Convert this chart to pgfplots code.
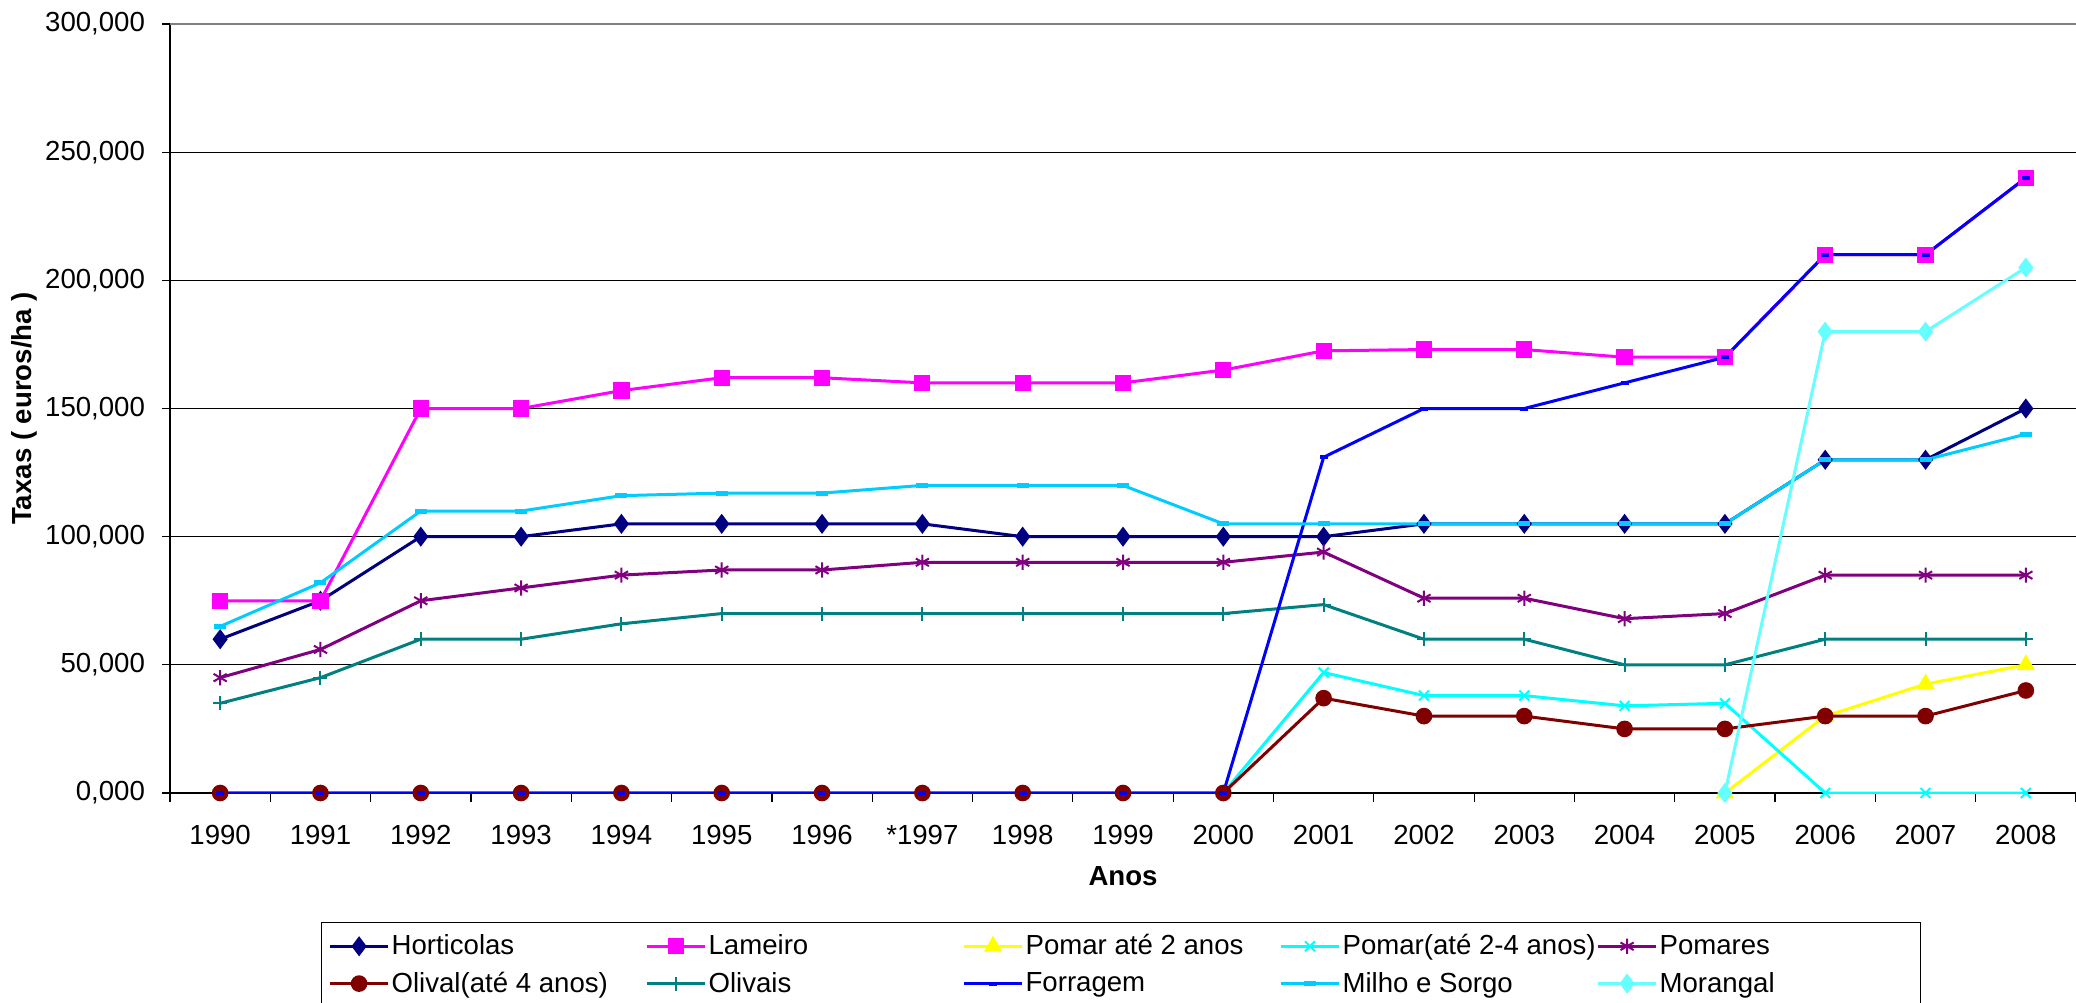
\documentclass[border=0pt]{standalone}
\usepackage{fontspec}
\setmainfont{Liberation Sans}
\usepackage{pgfplots}
\pgfplotsset{compat=1.18}

\definecolor{cHort}{RGB}{0,0,128}
\definecolor{cLam}{RGB}{255,0,255}
\definecolor{cPomA}{RGB}{255,255,0}
\definecolor{cPomB}{RGB}{0,255,255}
\definecolor{cPoms}{RGB}{128,0,128}
\definecolor{cOlA}{RGB}{128,0,0}
\definecolor{cOlv}{RGB}{0,128,128}
\definecolor{cForr}{RGB}{0,0,255}
\definecolor{cMilho}{RGB}{0,204,255}
\definecolor{cMor}{RGB}{102,255,255}

\newcommand{\lbox}[1]{\makebox[126pt][l]{#1}}

\begin{document}
\begin{tikzpicture}
\begin{axis}[
  scale only axis,
  width=953pt, height=384.5pt,
  xmin=-0.5, xmax=18.5, ymin=0, ymax=300,
  xtick={0,...,18},
  xticklabels={1990,1991,1992,1993,1994,1995,1996,*1997,1998,1999,2000,2001,2002,2003,2004,2005,2006,2007,2008},
  minor xtick={-0.5,0.5,...,18.5},
  major x tick style={draw=none},
  ytick={0,50,...,300},
  ymajorgrids,
  grid style={black, line width=0.6pt},
  axis x line*=bottom, axis y line*=left,
  axis line style={black, line width=0.8pt},
  tick align=outside,
  major tick length=4pt, minor tick length=4.5pt,
  tick style={black, line width=0.6pt},
  ticklabel style={font=\fontsize{13.8}{16}\selectfont},
  yticklabel style={xshift=-5pt, /pgf/number format/.cd, fixed, fixed zerofill, precision=3, use comma, 1000 sep={}, assume math mode=true},
  xticklabel style={yshift=-8.6pt},
  xlabel={\textbf{Anos}},
  ylabel={\textbf{Taxas ( euros/ha )}},
  label style={font=\fontsize{13.8}{16}\selectfont},
  xlabel style={at={(axis description cs:0.5,-0.108)}, anchor=center},
  ylabel style={at={(axis description cs:-0.0766,0.5)}, anchor=center},
  legend columns=5,
  legend cell align=left,
  legend image code/.code={\draw[mark repeat=2,mark phase=2] plot coordinates {(0pt,0pt) (14.5pt,0pt) (29pt,0pt)};},
  legend style={at={(axis description cs:0,0)}, anchor=north west,
    xshift=75.5pt, yshift=-64.5pt, draw=black, line width=0.6pt,
    inner xsep=3.5pt, inner ysep=5pt,
    font=\fontsize{13.8}{16}\selectfont, row sep=5pt,
    nodes={inner sep=1pt}},
  every axis plot/.append style={line width=1.5pt},
]
% Horticolas
\addplot[cHort, mark=diamond*, mark size=3.8pt] coordinates {
 (0,60) (1,75) (2,100) (3,100) (4,105) (5,105) (6,105) (7,105) (8,100) (9,100)
 (10,100) (11,100) (12,105) (13,105) (14,105) (15,105) (16,130) (17,130) (18,150)};
% Lameiro
\addplot[cLam, mark=square*, mark size=3.3pt] coordinates {
 (0,75) (1,75) (2,150) (3,150) (4,157) (5,162) (6,162) (7,160) (8,160) (9,160)
 (10,165) (11,172.5) (12,173) (13,173) (14,170) (15,170) (16,210) (17,210) (18,240)};
% Pomar ate 2 anos
\addplot[cPomA, mark=triangle*, mark size=3.8pt] coordinates {
 (15,0) (16,30) (17,42.5) (18,50)};
% Pomar (ate 2-4 anos)
\addplot[cPomB, mark=x, mark size=3.5pt, mark options={line width=1pt}] coordinates {
 (0,0) (1,0) (2,0) (3,0) (4,0) (5,0) (6,0) (7,0) (8,0) (9,0)
 (10,0) (11,47) (12,38) (13,38) (14,34) (15,35) (16,0) (17,0) (18,0)};
% Pomares
\addplot[cPoms, mark=asterisk, mark size=3.8pt, mark options={line width=1pt}] coordinates {
 (0,45) (1,56) (2,75) (3,80) (4,85) (5,87) (6,87) (7,90) (8,90) (9,90)
 (10,90) (11,94) (12,76) (13,76) (14,68) (15,70) (16,85) (17,85) (18,85)};
% Olival (ate 4 anos)
\addplot[cOlA, mark=*, mark size=3.4pt] coordinates {
 (0,0) (1,0) (2,0) (3,0) (4,0) (5,0) (6,0) (7,0) (8,0) (9,0)
 (10,0) (11,37) (12,30) (13,30) (14,25) (15,25) (16,30) (17,30) (18,40)};
% Olivais
\addplot[cOlv, mark=+, mark size=3.5pt, mark options={line width=1pt}] coordinates {
 (0,35) (1,45) (2,60) (3,60) (4,66) (5,70) (6,70) (7,70) (8,70) (9,70)
 (10,70) (11,73.5) (12,60) (13,60) (14,50) (15,50) (16,60) (17,60) (18,60)};
% Forragem
\addplot[cForr, mark=-, mark size=2pt, mark options={line width=2pt}] coordinates {
 (0,0) (1,0) (2,0) (3,0) (4,0) (5,0) (6,0) (7,0) (8,0) (9,0)
 (10,0) (11,131) (12,150) (13,150) (14,160) (15,170) (16,210) (17,210) (18,240)};
% Milho e Sorgo
\addplot[cMilho, mark=-, mark size=3pt, mark options={line width=2.5pt}] coordinates {
 (0,65) (1,82) (2,110) (3,110) (4,116) (5,117) (6,117) (7,120) (8,120) (9,120)
 (10,105) (11,105) (12,105) (13,105) (14,105) (15,105) (16,130) (17,130) (18,140)};
% Morangal
\addplot[cMor, mark=diamond*, mark size=3.8pt] coordinates {
 (15,0) (16,180) (17,180) (18,205)};
\legend{\lbox{Horticolas},\lbox{Lameiro},\lbox{Pomar até 2 anos},\lbox{Pomar(até 2-4 anos)},\lbox{Pomares},
 \lbox{Olival(até 4 anos)},\lbox{Olivais},\lbox{Forragem},\lbox{Milho e Sorgo},\lbox{Morangal}}
\draw[gray, line width=1.5pt] (rel axis cs:0,1) -- (rel axis cs:1,1);
\end{axis}
\pgfresetboundingbox
\path[use as bounding box] ([xshift=-85pt,yshift=-104.5pt]current axis.south west) rectangle ([yshift=12pt]current axis.north east);
\end{tikzpicture}
\end{document}
